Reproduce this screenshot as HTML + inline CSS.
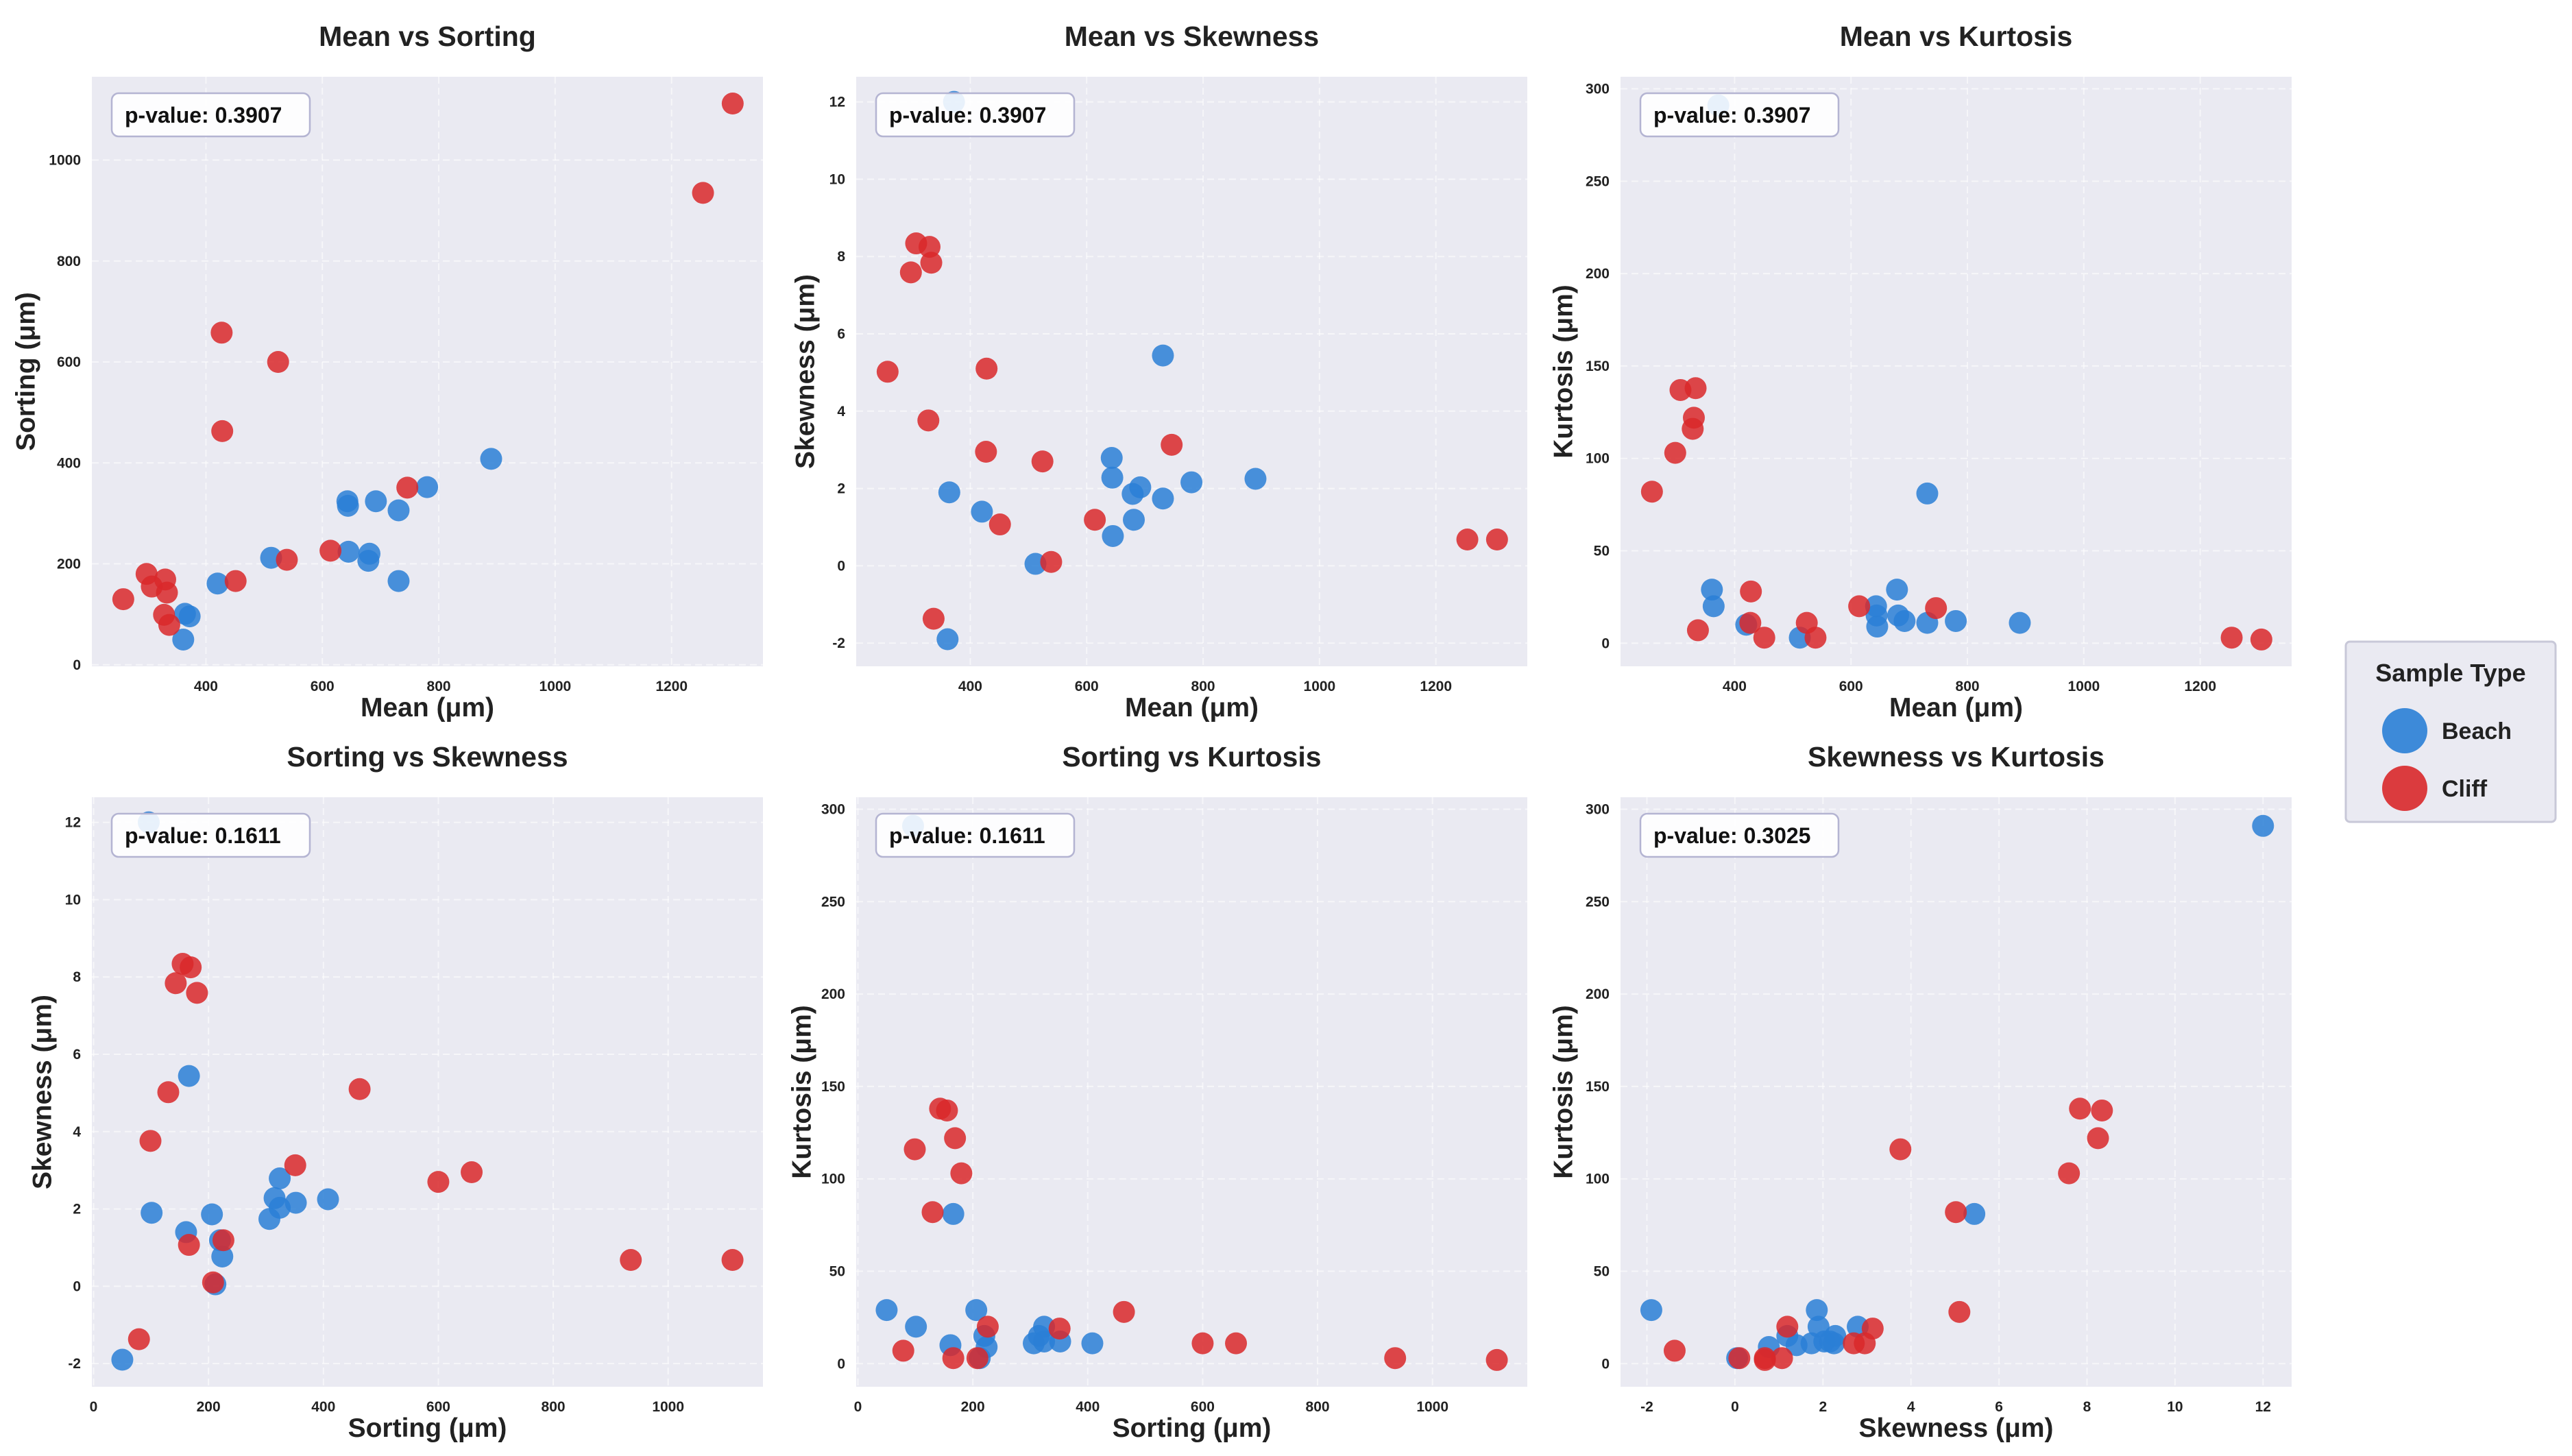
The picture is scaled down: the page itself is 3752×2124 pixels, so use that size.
<!DOCTYPE html>
<html><head><meta charset="utf-8">
<style>
html,body{margin:0;padding:0;background:#fff;}
svg{display:block;font-family:"Liberation Sans",sans-serif;}
</style></head>
<body>
<svg id="chart" width="3752" height="2124" viewBox="0 0 3752 2124" xmlns="http://www.w3.org/2000/svg">
  <g id="panels"></g>
  <g>
    <rect x="3422" y="936" width="306" height="263" rx="6" fill="#eaeaf2" stroke="#c8c8d8" stroke-width="3"/>
    <text x="3575" y="994" text-anchor="middle" font-size="36" font-weight="bold" fill="#222">Sample Type</text>
    <g>
      <circle cx="3508" cy="1066" r="33" fill="#2a7fd6" fill-opacity="0.9"/>
      <text x="3562" y="1078" font-size="34" font-weight="bold" fill="#222">Beach</text>
    </g>
    <g>
      <circle cx="3508" cy="1150" r="33" fill="#d9282a" fill-opacity="0.9"/>
      <text x="3562" y="1162" font-size="34" font-weight="bold" fill="#222">Cliff</text>
    </g>
  </g>
</svg>
<script>
const beachMean = [361,364,372,420,512,643,644,645,679,681,692,731,731,780,890];
const beachSorting = [50,101,96,161,212,324,315,224,206,220,324,306,166,352,408];
const beachSkewness = [-1.9,1.9,12,1.4,0.05,2.79,2.28,0.77,1.86,1.19,2.03,1.74,5.44,2.16,2.25];
const beachKurtosis = [29,20,291,10,3,20,15,9,29,15,12,11,81,12,11];
const cliffMean = [258,298,307,330,333,328,337,427,428,451,524,539,614,746,1254,1305];
const cliffSorting = [130,180,155,169,143,99,79,658,463,166,600,208,226,351,935,1112];
const cliffSkewness = [5.02,7.59,8.34,8.25,7.84,3.76,-1.37,2.95,5.1,1.07,2.70,0.10,1.19,3.13,0.68,0.68];
const cliffKurtosis = [82,103,137,122,138,116,7,11,28,3,11,3,20,19,3,2];
const meanTicks = [400,600,800,1000,1200];
const sortingTicks = [0,200,400,600,800,1000];
const skewnessTicks = [-2,0,2,4,6,8,10,12];
const kurtosisTicks = [0,50,100,150,200,250,300];
const pValues = ["0.3907","0.3907","0.3907","0.1611","0.1611","0.3025"];

const NS = "http://www.w3.org/2000/svg";
const vars = {
  Mean: {b: beachMean, c: cliffMean, ticks: meanTicks, dom: [204,1357]},
  Sorting: {b: beachSorting, c: cliffSorting, ticks: sortingTicks, dom: [-3,1165]},
  Skewness: {b: beachSkewness, c: cliffSkewness, ticks: skewnessTicks, dom: [-2.6,12.65]},
  Kurtosis: {b: beachKurtosis, c: cliffKurtosis, ticks: kurtosisTicks, dom: [-12.5,306.5]}
};
const panels = [
  {x:"Mean", y:"Sorting", L:134, T:112, yl:38},
  {x:"Mean", y:"Skewness", L:1249, T:112, yl:1175},
  {x:"Mean", y:"Kurtosis", L:2364, T:112, yl:2281},
  {x:"Sorting", y:"Skewness", L:134, T:1163, yl:62},
  {x:"Sorting", y:"Kurtosis", L:1249, T:1163, yl:1170},
  {x:"Skewness", y:"Kurtosis", L:2364, T:1163, yl:2281}
];
const W = 979, H = 860;
function mk(tag, attrs, parent){
  const e = document.createElementNS(NS, tag);
  for (const k in attrs) e.setAttribute(k, attrs[k]);
  parent.appendChild(e);
  return e;
}
const root = document.getElementById("panels");
panels.forEach((p, i) => {
  const X = vars[p.x], Y = vars[p.y];
  const sx = v => p.L + (v - X.dom[0]) / (X.dom[1] - X.dom[0]) * W;
  const sy = v => p.T + H - (v - Y.dom[0]) / (Y.dom[1] - Y.dom[0]) * H;
  const g = mk("g", {}, root);
  
  
  const bg = mk("rect", {x:p.L, y:p.T, width:W, height:H, fill:"#eaeaf2"}, g);
  
  
  X.ticks.forEach(t => {
    const x = sx(t);
    const gl = mk("line", {x1:x, x2:x, y1:p.T, y2:p.T+H, stroke:"#fff", "stroke-opacity":0.55, "stroke-width":2, "stroke-dasharray":"10,6"}, g);
    
    
    const tl = mk("text", {x:x, y:p.T+H+36, "text-anchor":"middle", "font-size":21, "font-weight":"bold", fill:"#222"}, g);
    
    
    tl.textContent = t;
  });
  Y.ticks.forEach(t => {
    const y = sy(t);
    const gl = mk("line", {x1:p.L, x2:p.L+W, y1:y, y2:y, stroke:"#fff", "stroke-opacity":0.55, "stroke-width":2, "stroke-dasharray":"10,6"}, g);
    
    
    const tl = mk("text", {x:p.L-16, y:y+7, "text-anchor":"end", "font-size":21, "font-weight":"bold", fill:"#222"}, g);
    
    
    tl.textContent = t;
  });
  [["b","#2a7fd6","beach"],["c","#d9282a","cliff"]].forEach(([k,col,nm]) => {
    X[k].forEach((v, j) => {
      const c = mk("circle", {cx:sx(v), cy:sy(Y[k][j]), r:16, fill:col, "fill-opacity":0.85}, g);
      
      
    });
  });
  const box = mk("rect", {x:p.L+29, y:p.T+24, width:289, height:63, rx:10, fill:"#fff", "fill-opacity":0.88, stroke:"#b4b4d2", "stroke-width":2.5}, g);
  
  
  const pt = mk("text", {x:p.L+48, y:p.T+67, "font-size":32, "font-weight":"bold", fill:"#111"}, g);
  
  
  pt.textContent = "p-value: " + pValues[i];
  const title = mk("text", {x:p.L+W/2, y:p.T-45, "text-anchor":"middle", "font-size":41, "font-weight":"bold", fill:"#222"}, g);
  
  
  title.textContent = p.x + " vs " + p.y;
  const xl = mk("text", {x:p.L+W/2, y:p.T+H+73, "text-anchor":"middle", "font-size":39, "font-weight":"bold", fill:"#222"}, g);
  
  
  xl.textContent = p.x + " (μm)";
  const cy = p.T + H/2;
  const yl = mk("text", {x:p.yl, y:cy, "text-anchor":"middle", "font-size":39, "font-weight":"bold", fill:"#222", transform:"rotate(-90 " + p.yl + " " + cy + ")", "dominant-baseline":"central"}, g);
  
  
  yl.textContent = p.y + " (μm)";
});
</script>
</body></html>
